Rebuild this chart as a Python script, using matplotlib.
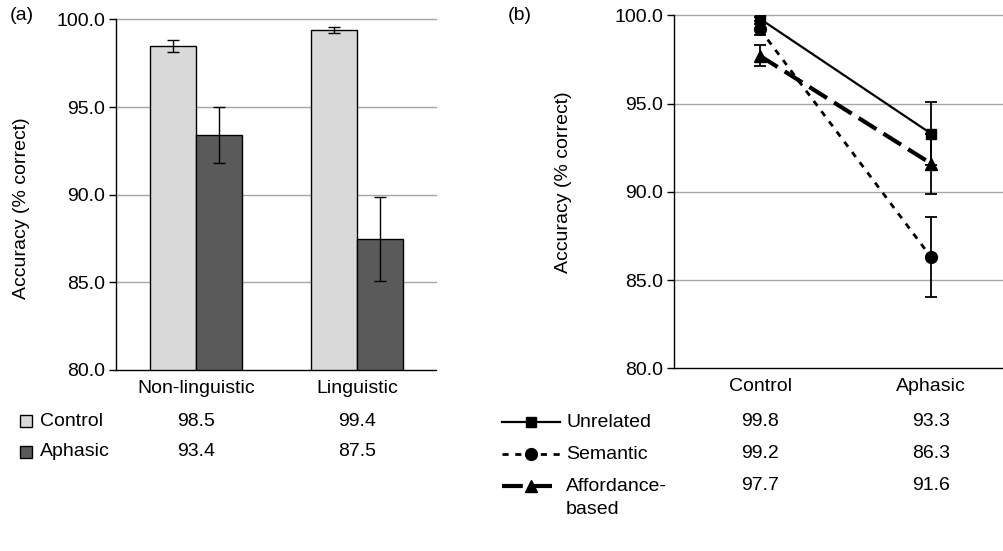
import matplotlib
matplotlib.use("Agg")
import matplotlib.pyplot as plt
from matplotlib.lines import Line2D
from matplotlib.patches import Rectangle
from matplotlib.transforms import blended_transform_factory
import numpy as np

plt.rcParams['font.family'] = ['Liberation Sans', 'DejaVu Sans']
FS = 14

# ---- data panel (a)
task_categories = ["Non-linguistic", "Linguistic"]
group_names = ["Control", "Aphasic"]
control_acc = [98.5, 99.4]
control_err = [0.35, 0.18]
aphasic_acc = [93.4, 87.5]
aphasic_err = [1.6, 2.4]

# ---- data panel (b)
groups_b = ["Control", "Aphasic"]
series_names = ["Unrelated", "Semantic", "Affordance-\nbased"]
unrelated = [99.8, 93.3]
unrelated_err = [0.1, 1.8]
semantic = [99.2, 86.3]
semantic_err = [0.3, 2.25]
affordance = [97.7, 91.6]
affordance_err = [0.6, 1.7]

yticks = [80, 85, 90, 95, 100]

W, H = 1004, 551
fig = plt.figure(figsize=(W / 100, H / 100), dpi=100)

def fy(py):
    return 1 - py / H

def fx(px):
    return px / W

def style_axes(ax):
    ax.set_ylim(80, 100)
    ax.set_yticks(yticks)
    ax.set_yticklabels([f"{v:.1f}" for v in yticks], fontsize=FS)
    for v in yticks[1:]:
        ax.axhline(v, color="#a6a6a6", lw=1.0, zorder=0, clip_on=False)
    ax.spines['top'].set_visible(False)
    ax.spines['right'].set_visible(False)
    ax.spines['left'].set_color('black')
    ax.spines['bottom'].set_color('black')
    ax.spines['left'].set_linewidth(1.0)
    ax.spines['bottom'].set_linewidth(1.0)
    ax.tick_params(axis='y', direction='out', length=5, width=1, pad=3)
    ax.tick_params(axis='x', length=0, pad=7, labelsize=FS)

# ---------------- panel (a)
axA = fig.add_axes([fx(116), fy(370), fx(436) - fx(116), fy(19.5) - fy(370)])
style_axes(axA)
x = np.arange(len(task_categories))
bw = 0.286
axA.bar(x - bw / 2, control_acc, width=bw, bottom=0, color="#d9d9d9",
        edgecolor="black", lw=1.0, zorder=2)
axA.bar(x + bw / 2, aphasic_acc, width=bw, bottom=0, color="#5a5a5a",
        edgecolor="black", lw=1.0, zorder=2)
axA.errorbar(x - bw / 2, control_acc, yerr=control_err, fmt='none',
             ecolor='black', elinewidth=1.0, capsize=4, capthick=1.0, zorder=3)
axA.errorbar(x + bw / 2, aphasic_acc, yerr=aphasic_err, fmt='none',
             ecolor='black', elinewidth=1.0, capsize=4, capthick=1.0, zorder=3)
axA.set_ylim(80, 100)
axA.set_xlim(-0.497, 1.491)
axA.set_xticks(x)
axA.set_xticklabels(task_categories)
axA.set_ylabel("Accuracy (% correct)", fontsize=FS)
axA.yaxis.set_label_coords(-0.27, 0.462)

trA = blended_transform_factory(axA.transData, fig.transFigure)
rowsA = [(group_names[0], control_acc, "#d9d9d9", 421),
         (group_names[1], aphasic_acc, "#5a5a5a", 452)]
for name, vals, col, py in rowsA:
    fig.add_artist(Rectangle((fx(20), fy(py + 6)), fx(12), fy(py - 6) - fy(py + 6),
                             transform=fig.transFigure, facecolor=col,
                             edgecolor="black", lw=1.0))
    fig.text(fx(40), fy(py), name, fontsize=FS, va='center', ha='left')
    for xi, v in zip(x, vals):
        fig.text(xi, fy(py), f"{v:.1f}", transform=trA, fontsize=FS,
                 va='center', ha='center')

fig.text(fx(22), fy(15), "(a)", fontsize=FS, ha='center', va='center')

# ---------------- panel (b)
axB = fig.add_axes([fx(674), fy(368.3), fx(1004) - fx(674), fy(15.3) - fy(368.3)])
style_axes(axB)
xb = np.arange(len(groups_b))
styles = [
    dict(ls='-', lw=1.6, marker='s', ms=7.5, dashes=None),
    dict(ls='--', lw=2.0, marker='o', ms=8.5, dashes=(2.2, 2.4)),
    dict(ls='--', lw=3.0, marker='^', ms=8.5, dashes=(5, 2)),
]
series = [(unrelated, unrelated_err), (semantic, semantic_err), (affordance, affordance_err)]
for (vals, errs), st in zip(series, styles):
    axB.errorbar(xb, vals, yerr=errs, fmt='none', ecolor='black',
                 elinewidth=1.3, capsize=4, capthick=1.3, zorder=3)
    kw = dict(color='black', lw=st['lw'], marker=st['marker'], ms=st['ms'],
              markerfacecolor='black', markeredgecolor='black', zorder=4)
    if st['dashes'] is not None:
        ln, = axB.plot(xb, vals, ls='--', **kw)
        ln.set_dashes(st['dashes'])
    else:
        axB.plot(xb, vals, ls='-', **kw)
axB.set_ylim(80, 100)
axB.set_xlim(-0.503, 1.427)
axB.set_xticks(xb)
axB.set_xticklabels(groups_b)
axB.set_ylabel("Accuracy (% correct)", fontsize=FS)
axB.yaxis.set_label_coords(-0.309, 0.526)

trB = blended_transform_factory(axB.transData, fig.transFigure)
rowsB_y = [421.7, 454, 486]
for (vals, errs), st, name, py in zip(series, styles, series_names, rowsB_y):
    ln = Line2D([fx(502), fx(560)], [fy(py), fy(py)], transform=fig.transFigure,
                color='black', lw=st['lw'])
    if st['dashes'] is not None:
        ln.set_linestyle('--')
        ln.set_dashes(st['dashes'])
    fig.add_artist(ln)
    mk = Line2D([fx(531)], [fy(py)], transform=fig.transFigure, color='black',
                marker=st['marker'], ms=st['ms'], markerfacecolor='black',
                markeredgecolor='black', lw=0)
    fig.add_artist(mk)
    fig.text(fx(566), fy(py - 8), name, fontsize=FS, va='top', ha='left',
             linespacing=1.45)
    for xi, v in zip(xb, vals):
        fig.text(xi, fy(py), f"{v:.1f}", transform=trB, fontsize=FS,
                 va='center', ha='center')

fig.text(fx(520), fy(15), "(b)", fontsize=FS, ha='center', va='center')

fig.savefig("out.png", dpi=100)
